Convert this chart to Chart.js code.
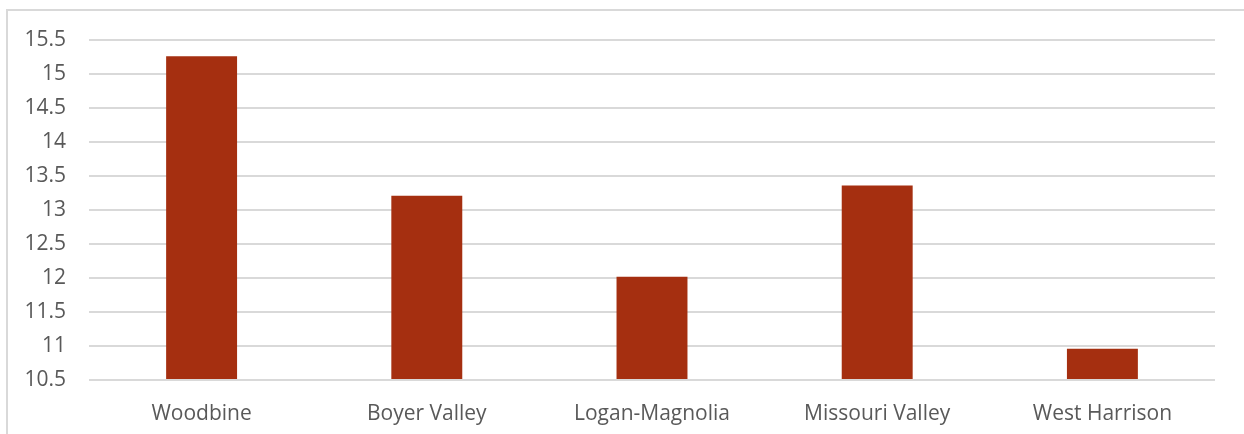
<!DOCTYPE html>
<html>
<head>
<meta charset="utf-8">
<title>District values</title>
<script src="https://cdn.jsdelivr.net/npm/chart.js@4/dist/chart.umd.min.js"></script>
<style>
  html, body { margin: 0; padding: 0; background: #fff; overflow: hidden; }
  #wrap { position: relative; width: 1244px; height: 434px; }
  #frame {
    position: absolute; left: 6px; top: 9px; width: 1300px; height: 500px;
    border: 2px solid #d9d9d9; box-sizing: border-box;
  }
  canvas { position: absolute; left: 0; top: 0; }
</style>
</head>
<body>
<div id="wrap">
  <div id="frame"></div>
  <canvas id="districtChart" width="1244" height="434"></canvas>
</div>
<script>
// districts and their values
const districts = ['Woodbine', 'Boyer Valley', 'Logan-Magnolia', 'Missouri Valley', 'West Harrison'];
const districtValues = [15.26, 13.21, 12.02, 13.36, 10.96];

// y axis range
const yMin = 10.5;
const yMax = 15.5;
const yStep = 0.5;

const labelFont = { family: "'Open Sans', 'Liberation Sans', sans-serif", size: 21 };
const labelColor = '#595959';
const gridColor = '#d9d9d9';

function drawChart() {
  const ctx = document.getElementById('districtChart').getContext('2d');

  window.districtChart = new Chart(ctx, {
    type: 'bar',
    data: {
      labels: districts,
      datasets: [{
        data: districtValues,
        backgroundColor: '#a52f10',
        borderWidth: 0,
        categoryPercentage: 1,
        barPercentage: 0.315,
        base: yMin
      }]
    },
    options: {
      responsive: false,
      animation: false,
      devicePixelRatio: 1,
      layout: {
        padding: { left: 0, right: 29, top: 40, bottom: 0 }
      },
      scales: {
        y: {
          min: yMin,
          max: yMax,
          border: { display: false },
          grid: { color: gridColor, lineWidth: 2, drawTicks: false },
          ticks: {
            stepSize: yStep,
            color: labelColor,
            font: labelFont,
            padding: 23,
            // 15 rather than 15.0
            callback: function(value) { return String(Number(value)); }
          },
          afterFit: function(scale) { scale.width = 89; }
        },
        x: {
          border: { display: false },
          grid: { display: false },
          ticks: {
            color: labelColor,
            font: labelFont,
            padding: 13,
            maxRotation: 0
          },
          afterFit: function(scale) { scale.height = 54; }
        }
      },
      plugins: {
        legend: { display: false },
        tooltip: { enabled: false }
      }
    }
  });
}

document.addEventListener('DOMContentLoaded', drawChart);
</script>
</body>
</html>
